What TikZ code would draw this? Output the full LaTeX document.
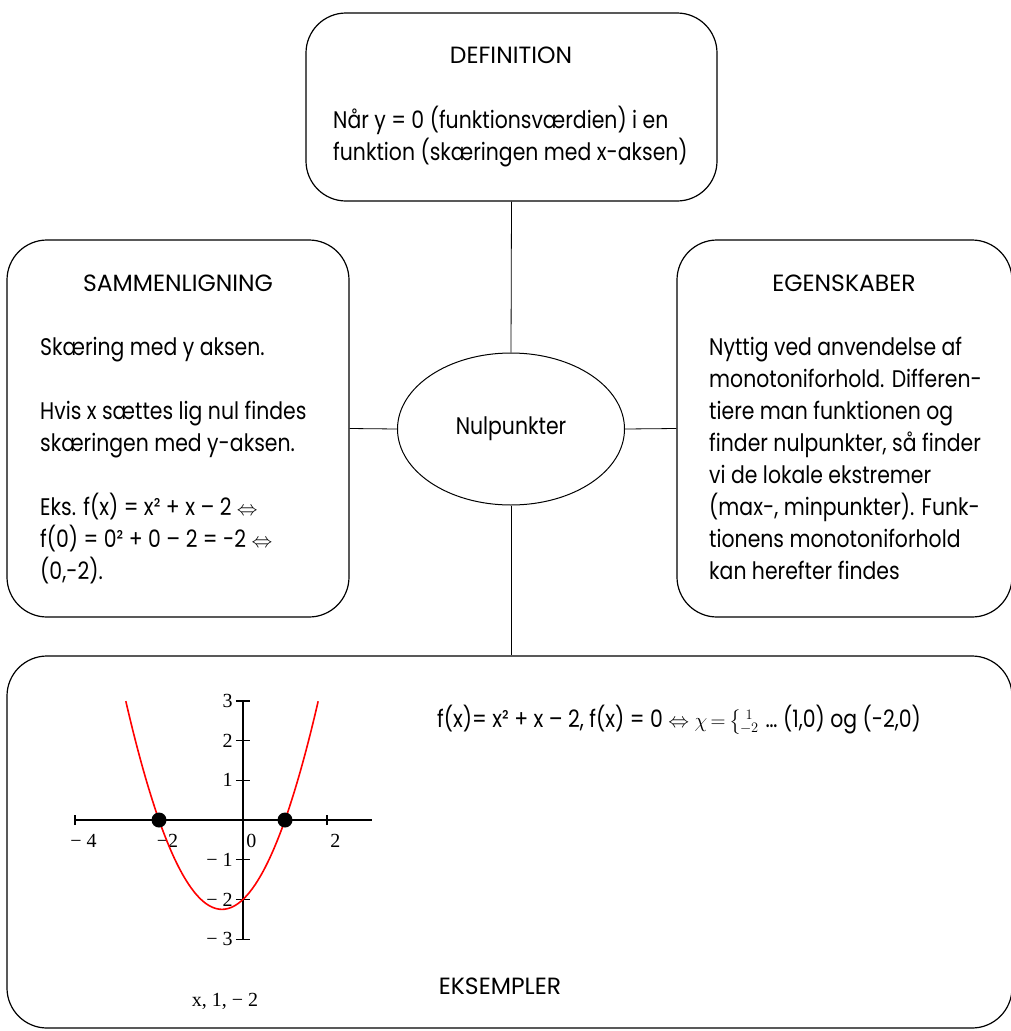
\documentclass[tikz,border=0pt]{standalone}
\usepackage{amsmath}
\usepackage{fontspec}
\setmainfont{Poppins}[FakeStretch=0.85]
\newfontfamily\headfont{Poppins}
\newfontfamily\graphfont{Liberation Serif}
\usetikzlibrary{shapes.geometric, calc, positioning}

\newcommand\txtsize{\fontsize{24}{32}\selectfont}
\newcommand\dblarrow{{\fontsize{20}{20}\selectfont$\Leftrightarrow$}}

\tikzset{
  box/.style={draw, line width=1.2pt, rounded corners=40pt, inner sep=0pt},
  head/.style={anchor=base, inner sep=0pt, font=\headfont\fontsize{23.5}{32}\selectfont},
  body/.style={anchor=base west, align=left, inner sep=0pt, font=\txtsize},
  link/.style={line width=0.8pt},
  tick/.style={line width=1.2pt},
  num/.style={inner sep=0pt, font=\graphfont\fontsize{20}{20}\selectfont}
}

\begin{document}
\begin{tikzpicture}[x=1pt, y=-1pt]
\useasboundingbox (0,0) rectangle (1011,1031);

% boxes
\node[box, minimum width=411pt, minimum height=188pt] (def) at (511.5,107) {};
\node[box, minimum width=342pt, minimum height=377pt] (samm) at (178,428.5) {};
\node[box, minimum width=335pt, minimum height=377pt] (egen) at (844.5,428.5) {};
\node[box, minimum width=1005pt, minimum height=372pt] (eks) at (509.5,842) {};
\node[draw, line width=1pt, ellipse, minimum width=227pt, minimum height=152pt,
      inner sep=0pt, font=\txtsize] (nul) at (511,429) {Nulpunkter};

% connectors
\draw[link] (def.south) -- (nul.north);
\draw[link] (samm.east) -- (nul.west);
\draw[link] (nul.east) -- (egen.west);
\draw[link] (nul.south) -- (nul.south |- eks.north);

% texts (base = baseline of the last line)
\node[head] (deftitle) at (511,63) {DEFINITION};
\node[body] (deftext) at (333,160) {Når y = 0 (funktionsværdien) i en\\
  funktion (skæringen med x-aksen)};

\node[head] (sammtitle) at (178,291) {SAMMENLIGNING};
\node[body] (sammtext) at (40,579) {Skæring med y aksen.\\[32pt]
  Hvis x sættes lig nul findes\\
  skæringen med y-aksen.\\[32pt]
  Eks. f(x) = x² + x – 2 \dblarrow\\
  f(0) = 0² + 0 – 2 = -2 \dblarrow\\
  (0,-2).};

\node[head] (egentitle) at (844,291) {EGENSKABER};
\node[body] (egentext) at (709,579) {Nyttig ved anvendelse af\\
  monotoniforhold. Differen-\\
  tiere man funktionen og\\
  finder nulpunkter, så finder\\
  vi de lokale ekstremer\\
  (max-, minpunkter). Funk-\\
  tionens monotoniforhold\\
  kan herefter findes};

\node[body] (formel) at (437,727) {f(x)= x² + x – 2, f(x) = 0 \dblarrow{}
  {\fontsize{20}{20}\selectfont$\chi\mkern3mu{=}\mkern3mu\bigl\{\mkern-4mu
  \begin{smallmatrix}1\\[2pt] -2\end{smallmatrix}$}\,… (1,0) og (-2,0)};
\node[head] (ekstitle) at (500,994) {EKSEMPLER};

% graph
\begin{scope}[shift={(243,820)}, x=42pt, y=39.7pt]
  \draw[tick] (-4,0) -- (3.07,0);
  \draw[tick] (0,-3) -- (0,3);
  \foreach \y in {-3,...,3}
    \draw[tick] (-0.17,\y) -- (0.17,\y);
  \foreach \x in {-4,-2,2}
    \draw[tick] (\x,-0.13) -- (\x,0.13);
  \foreach \y/\t in {3/3, 2/2, 1/1, -1/− 1, -2/− 2, -3/− 3}
    \node[num, anchor=east] at (-0.24,\y) {\t};
  \foreach \x/\t in {-4/− 4, -2/−2, 0/0, 2/2}
    \node[num, anchor=base] at (\x+0.2,-0.7) {\t};
  \draw[red, line width=1.6pt, domain=-2.79:1.79, smooth, samples=120]
    plot (\x, {\x*\x+\x-2});
  \foreach \x in {-2, 1}
    \fill (\x,0) circle (7.5pt);
  \node[num, anchor=base] (graflabel) at (-0.43,-4.7) {x, 1, − 2};
\end{scope}
\end{tikzpicture}
\end{document}
